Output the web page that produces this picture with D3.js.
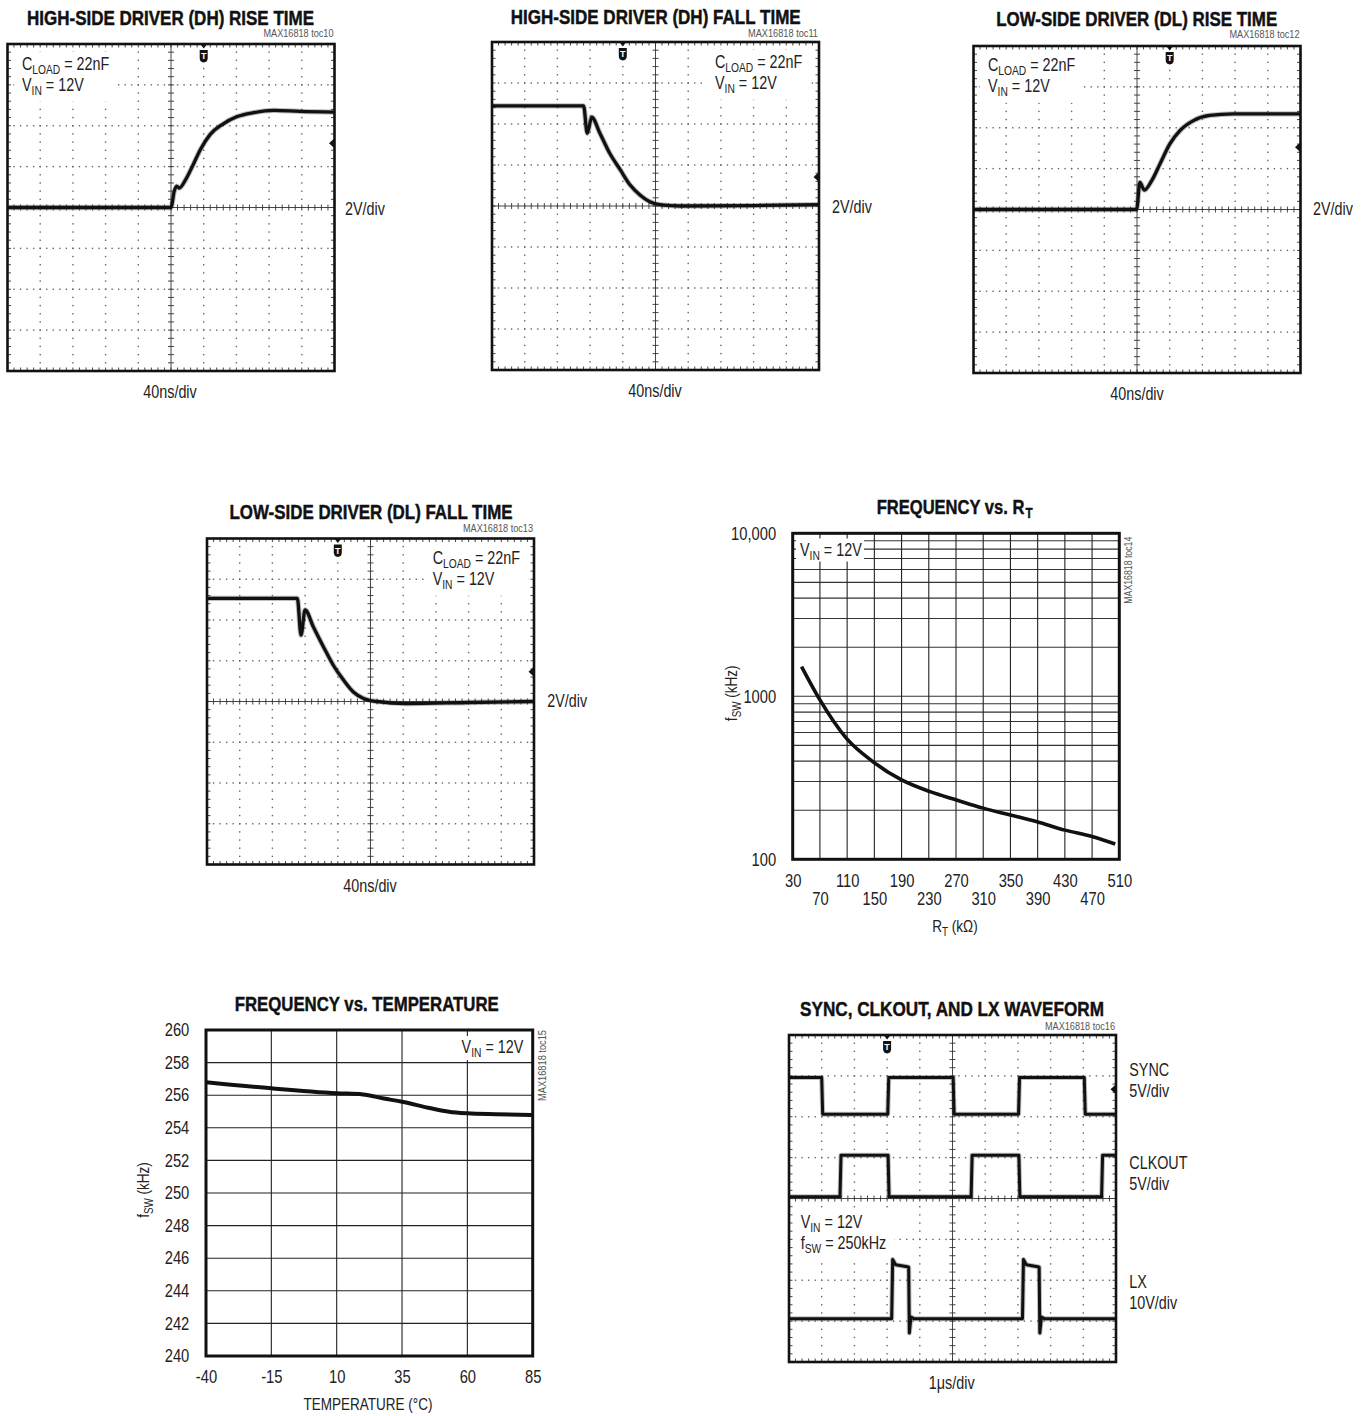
<!DOCTYPE html>
<html>
<head>
<meta charset="utf-8">
<script src="https://cdn.jsdelivr.net/npm/d3@7"></script>
<style>
  body { margin: 0; background: #fff; }
  svg { display: block; }
  text { font-family: "Liberation Sans", Arial, "Helvetica", sans-serif; fill: #222; }
</style>
</head>
<body>
<svg id="chart" width="1367" height="1416"></svg>
<script>
const dhRise = [[0,0],[200,0],[204,0.8],[207,1.05],[210,0.95],[218,1.37],[226,2.0],[236,2.84],[248,3.58],[263,4.07],[281,4.45],[301,4.64],[326,4.75],[358,4.7],[400,4.67]];
const dhFall = [[0,4.88],[112,4.88],[116.5,3.55],[122,4.33],[132,3.55],[144,2.57],[157,1.76],[169,1.02],[181,0.54],[193,0.21],[207,0.05],[230,0],[320,0.02],[400,0.07]];
const dlRise = [[0,0],[199.5,0],[203.5,1.32],[209,0.95],[218,1.41],[228,2.22],[240,3.2],[252.5,3.86],[269,4.35],[289,4.6],[318,4.68],[400,4.68]];
const dlFall = [[0,5.06],[110.5,5.06],[115,3.26],[120,4.49],[130,3.67],[142.5,2.68],[154.5,1.78],[167,1.05],[179,0.47],[191.5,0.15],[208,0],[244,-0.1],[320,-0.05],[400,0]];

// SYNC / CLKOUT / LX (t en us)
const syncWave = [[0,4.5],[1.0,4.5],[1.03,0],[3.02,0],[3.05,4.5],[5.02,4.5],[5.05,0],[7.02,0],[7.05,4.5],[9.03,4.5],[9.06,0],[10,0]];
const clkWave = [[0,0],[1.56,0],[1.59,5.1],[3.03,5.1],[3.06,0],[5.57,0],[5.6,5.1],[7.03,5.1],[7.06,0],[9.56,0],[9.59,5.1],[10,5.1]];
const lxWave = [[0,0],[3.14,0],[3.17,14.5],[3.26,13.2],[3.62,12.7],[3.66,12.6],[3.68,-3.5],[3.73,0.4],[3.82,0],[7.14,0],[7.17,14.5],[7.26,13.2],[7.61,12.7],[7.65,12.6],[7.67,-3.5],[7.72,0.4],[7.81,0],[10,0]];

// frequence vs RT
const rtValues = [43, 70, 109, 148, 190, 232, 271, 310, 350, 389, 430, 470, 504];
const fswVsRt  = [1520, 950, 552, 397, 307, 260, 231, 206, 187, 170, 151, 138, 124];
const rtTicks = d3.range(30, 511, 40);
const rtFreqTicks = [100, 1000, 10000];

// frequence vs temperature
const tempValues = [-40, -15, 10, 20, 28, 35, 46, 53, 60, 71, 85];
const fswVsTemp  = [256.8, 256.42, 256.12, 256.05, 255.8, 255.6, 255.2, 254.99, 254.89, 254.83, 254.78];
const tempTicks = [-40, -15, 10, 35, 60, 85];
const tempFreqTicks = d3.range(240, 261, 2);

const svg = d3.select("#chart");
const SX = 0.82; // police etroite simulee

function label(parent, x, y, size, anchor, rot) {
  return parent.append("text")
    .attr("transform", `translate(${x},${y})${rot ? ` rotate(${rot})` : ""} scale(${SX},1)`)
    .attr("font-size", size).attr("text-anchor", anchor || "start");
}

// texte avec indices : parts = [[texte, estIndice], ...]
function rich(text, parts, subSize) {
  let down = false;
  parts.forEach(([s, sub]) => {
    const t = text.append("tspan").text(s);
    if (sub) {
      t.attr("font-size", subSize);
      if (!down) { t.attr("dy", 4); down = true; }
    } else if (down) {
      t.attr("dy", -4); down = false;
    }
  });
  return text;
}

function title(x, y, len, str) {
  return svg.append("text").attr("x", x).attr("y", y)
    .attr("text-anchor", "middle").attr("font-size", 20).attr("font-weight", "bold")
    .attr("textLength", len).attr("lengthAdjust", "spacingAndGlyphs")
    .attr("stroke", "#111").attr("stroke-width", 0.45)
    .style("fill", "#111").text(str);
}

function toc(x, y, str) {
  svg.append("text").attr("x", x).attr("y", y).attr("text-anchor", "end")
    .attr("font-size", 10).attr("textLength", 70).attr("lengthAdjust", "spacingAndGlyphs")
    .style("fill", "#555").text(str);
}

let clipId = 0;
function drawScope(cfg) {
  const [bx, by, bw, bh] = cfg.box;
  const g = svg.append("g");
  const xd = d3.scaleLinear().domain([0, 10]).range([bx, bx + bw]);
  const yd = d3.scaleLinear().domain([-4, 4]).range([by + bh, by]);
  const minorX = d3.range(1, 50).map(k => k / 5);
  const minorY = d3.range(1, 40).map(k => k / 5 - 4);

  // graticule pointillee
  const dots = [];
  [1, 2, 3, 4, 6, 7, 8, 9].forEach(i => minorY.forEach(v => dots.push([xd(i), yd(v)])));
  [-3, -2, -1, 1, 2, 3].forEach(j => minorX.forEach(u => dots.push([xd(u), yd(j)])));
  g.append("g").selectAll("rect").data(dots).join("rect")
    .attr("x", d => d[0] - 0.7).attr("y", d => d[1] - 0.7)
    .attr("width", 1.4).attr("height", 1.4).attr("fill", "#666");

  // axes centraux et graduations
  const ticks = [];
  minorX.forEach(u => ticks.push([xd(u), yd(0) - 3, xd(u), yd(0) + 3]));
  minorY.forEach(v => ticks.push([xd(5) - 3, yd(v), xd(5) + 3, yd(v)]));
  minorX.forEach(u => {
    ticks.push([xd(u), by, xd(u), by + 3.5]);
    ticks.push([xd(u), by + bh - 3.5, xd(u), by + bh]);
  });
  minorY.forEach(v => {
    ticks.push([bx, yd(v), bx + 3.5, yd(v)]);
    ticks.push([bx + bw - 3.5, yd(v), bx + bw, yd(v)]);
  });
  ticks.push([xd(5), by, xd(5), by + bh]);
  ticks.push([bx, yd(0), bx + bw, yd(0)]);
  g.append("g").selectAll("line").data(ticks).join("line")
    .attr("x1", d => d[0]).attr("y1", d => d[1]).attr("x2", d => d[2]).attr("y2", d => d[3])
    .attr("stroke", "#333").attr("stroke-width", 0.9);

  // fond blanc des annotations internes (rempli plus bas)
  const bgLayer = g.append("g");

  // traces
  const id = "clip" + (clipId++);
  svg.append("clipPath").attr("id", id).append("rect")
    .attr("x", bx).attr("y", by).attr("width", bw).attr("height", bh);
  const t = d3.scaleLinear().domain([0, cfg.tSpan]).range([bx, bx + bw]);
  cfg.traces.forEach(tr => {
    const v = d3.scaleLinear()
      .domain([(-4 - tr.offset) * tr.vdiv, (4 - tr.offset) * tr.vdiv])
      .range([by + bh, by]);
    const line = d3.line().x(d => t(d[0])).y(d => v(d[1])).curve(tr.curve || d3.curveLinear);
    const w = tr.width || 3.3;
    // halo gris pour imiter le bruit de la trace
    g.append("path").datum(tr.data).attr("d", line)
      .attr("clip-path", `url(#${id})`)
      .attr("fill", "none").attr("stroke", "#444").attr("stroke-opacity", 0.35)
      .attr("stroke-width", w + 2).attr("stroke-linejoin", "round");
    g.append("path").datum(tr.data).attr("d", line)
      .attr("clip-path", `url(#${id})`)
      .attr("fill", "none").attr("stroke", "#111")
      .attr("stroke-width", w).attr("stroke-linejoin", "round");
  });

  // cadre
  g.append("rect").attr("x", bx).attr("y", by).attr("width", bw).attr("height", bh)
    .attr("fill", "none").attr("stroke", "#111").attr("stroke-width", 2.6);

  // marqueur de declenchement
  const tx = xd(cfg.trig);
  g.append("path").attr("d", `M${tx - 3.5},${by} L${tx + 3.5},${by} L${tx},${by + 4.5} Z`).attr("fill", "#111");
  g.append("path")
    .attr("d", `M${tx - 4},${by + 6} h8 v8 q0,4 -4,4.5 q-4,-0.5 -4,-4.5 Z`)
    .attr("fill", "#111");
  g.append("text").attr("x", tx).attr("y", by + 15).attr("text-anchor", "middle")
    .attr("font-size", 9).attr("font-weight", "bold").style("fill", "#fff").text("T");

  // marqueur de niveau a droite
  const my = yd(cfg.level);
  g.append("path").attr("d", `M${bx + bw},${my - 5} L${bx + bw - 5.5},${my} L${bx + bw},${my + 5} Z`).attr("fill", "#111");

  title(cfg.titleX, cfg.titleY, cfg.titleLen, cfg.title);
  toc(bx + bw - 1, cfg.tocY + 1, cfg.toc);

  const inner = [];
  cfg.notes.forEach(n => {
    const el = rich(label(svg, n.x, n.y, 17.5), n.parts, 12.5);
    if (n.bg) inner.push(el.node().getBoundingClientRect());
  });
  if (inner.length) {
    const x0 = d3.min(inner, r => r.left) - 8, x1 = d3.max(inner, r => r.right) + 8;
    const y0 = d3.min(inner, r => r.top) - 3, y1 = d3.max(inner, r => r.bottom) + 5;
    bgLayer.append("rect")
      .attr("x", Math.max(x0, bx + 4)).attr("y", Math.max(y0, by + 4))
      .attr("width", Math.min(x1, bx + bw - 4) - Math.max(x0, bx + 4))
      .attr("height", y1 - Math.max(y0, by + 4))
      .attr("fill", "#fff");
  }
  label(svg, cfg.timeX, cfg.timeY, 17.5, "middle").text(cfg.timeLabel);
}

const driverNotes = (x, y) => [
  { x: x, y: y, bg: true, parts: [["C", 0], ["LOAD", 1], [" = 22nF", 0]] },
  { x: x, y: y + 20.5, bg: true, parts: [["V", 0], ["IN", 1], [" = 12V", 0]] }
];

drawScope({
  box: [7.5, 44, 327, 327], tSpan: 400, trig: 6, level: 1.57,
  title: "HIGH-SIDE DRIVER (DH) RISE TIME", titleX: 170.5, titleY: 25, titleLen: 287,
  toc: "MAX16818 toc10", tocY: 36,
  traces: [{ data: dhRise, vdiv: 2, offset: 0, curve: d3.curveMonotoneX }],
  notes: driverNotes(22, 70).concat([{ x: 345, y: 215, parts: [["2V/div", 0]] }]),
  timeLabel: "40ns/div", timeX: 170, timeY: 398
});

drawScope({
  box: [492, 42, 327, 328], tSpan: 400, trig: 4, level: 0.71,
  title: "HIGH-SIDE DRIVER (DH) FALL TIME", titleX: 655.7, titleY: 24, titleLen: 290,
  toc: "MAX16818 toc11", tocY: 36,
  traces: [{ data: dhFall, vdiv: 2, offset: 0, curve: d3.curveMonotoneX }],
  notes: driverNotes(715, 68).concat([{ x: 832, y: 213, parts: [["2V/div", 0]] }]),
  timeLabel: "40ns/div", timeX: 655, timeY: 397
});

drawScope({
  box: [973.5, 46, 327, 327], tSpan: 400, trig: 6, level: 1.52,
  title: "LOW-SIDE DRIVER (DL) RISE TIME", titleX: 1136.7, titleY: 26, titleLen: 281,
  toc: "MAX16818 toc12", tocY: 37.3,
  traces: [{ data: dlRise, vdiv: 2, offset: 0, curve: d3.curveMonotoneX }],
  notes: driverNotes(988, 71).concat([{ x: 1313, y: 215, parts: [["2V/div", 0]] }]),
  timeLabel: "40ns/div", timeX: 1137, timeY: 400
});

drawScope({
  box: [207, 538.5, 327, 326], tSpan: 400, trig: 4, level: 0.73,
  title: "LOW-SIDE DRIVER (DL) FALL TIME", titleX: 371, titleY: 519.3, titleLen: 283,
  toc: "MAX16818 toc13", tocY: 530.7,
  traces: [{ data: dlFall, vdiv: 2, offset: 0, curve: d3.curveMonotoneX }],
  notes: driverNotes(432.7, 564).concat([{ x: 547.3, y: 707.3, parts: [["2V/div", 0]] }]),
  timeLabel: "40ns/div", timeX: 370, timeY: 891.7
});

drawScope({
  box: [789, 1035, 327, 327], tSpan: 10, trig: 3, level: 2.67,
  title: "SYNC, CLKOUT, AND LX WAVEFORM", titleX: 952, titleY: 1016, titleLen: 304,
  toc: "MAX16818 toc16", tocY: 1029.3,
  traces: [
    { data: syncWave, vdiv: 5, offset: 2.06, width: 3 },
    { data: clkWave, vdiv: 5, offset: 0.04, width: 3 },
    { data: lxWave, vdiv: 10, offset: -2.94, width: 3 }
  ],
  notes: [
    { x: 1129.3, y: 1076, parts: [["SYNC", 0]] },
    { x: 1129.3, y: 1097.3, parts: [["5V/div", 0]] },
    { x: 1129.3, y: 1169.3, parts: [["CLKOUT", 0]] },
    { x: 1129.3, y: 1190, parts: [["5V/div", 0]] },
    { x: 1129.3, y: 1288.3, parts: [["LX", 0]] },
    { x: 1129.3, y: 1309.3, parts: [["10V/div", 0]] },
    { x: 800.7, y: 1228.3, bg: true, parts: [["V", 0], ["IN", 1], [" = 12V", 0]] },
    { x: 800.7, y: 1249.3, bg: true, parts: [["f", 0], ["SW", 1], [" = 250kHz", 0]] }
  ],
  timeLabel: "1\u03bcs/div", timeX: 951.7, timeY: 1389.3
});

function styleTicks(axisG, size) {
  axisG.select(".domain").remove();
  axisG.selectAll("text").attr("font-size", size).attr("font-family", null)
    .attr("transform", `scale(${SX},1)`).style("fill", "#222");
}

// ---- FREQUENCY vs. RT ----
(function () {
  const L = 792.7, R = 1119.3, T = 533.3, B = 859.3;
  const x = d3.scaleLinear().domain([30, 510]).range([L, R]);
  const y = d3.scaleLog().domain([100, 10000]).range([B, T]);
  const g = svg.append("g");

  const hLines = y.ticks().filter(v => v > 100 && v < 10000);
  g.append("g").selectAll("line").data(hLines).join("line")
    .attr("x1", L).attr("x2", R).attr("y1", d => y(d)).attr("y2", d => y(d))
    .attr("stroke", "#333").attr("stroke-width", 1.1);
  g.append("g").selectAll("line").data(rtTicks.slice(1, -1)).join("line")
    .attr("x1", d => x(d)).attr("x2", d => x(d)).attr("y1", T).attr("y2", B)
    .attr("stroke", "#222").attr("stroke-width", 1.1);

  // etiquette VIN sur fond blanc
  g.append("rect").attr("x", 796).attr("y", 538.5).attr("width", 68).attr("height", 23).attr("fill", "#fff");
  rich(label(g, 800, 555.5, 17.5), [["V", 0], ["IN", 1], [" = 12V", 0]], 12.5);

  const line = d3.line().x(d => x(d)).y((d, i) => y(fswVsRt[i])).curve(d3.curveMonotoneX);
  g.append("path").datum(rtValues).attr("d", line).attr("fill", "none")
    .attr("stroke", "#111").attr("stroke-width", 3.6);

  g.append("rect").attr("x", L).attr("y", T).attr("width", R - L).attr("height", B - T)
    .attr("fill", "none").attr("stroke", "#111").attr("stroke-width", 3);

  const ya = g.append("g").attr("transform", `translate(${L},0)`)
    .call(d3.axisLeft(y).tickValues(rtFreqTicks).tickSize(0).tickPadding(16.5 / SX)
      .tickFormat(d => d === 10000 ? "10,000" : String(d)));
  styleTicks(ya, 18);

  const xa = g.append("g").attr("transform", `translate(0,${B})`)
    .call(d3.axisBottom(x).tickValues(rtTicks).tickSize(0));
  styleTicks(xa, 18);
  xa.selectAll("text").attr("dy", null).attr("y", (d, i) => i % 2 ? 45.7 : 27.4);

  const tt = svg.append("text").attr("x", 876.7).attr("y", 514).attr("font-size", 20).attr("font-weight", "bold")
    .attr("textLength", 156).attr("lengthAdjust", "spacingAndGlyphs")
    .attr("stroke", "#111").attr("stroke-width", 0.45).style("fill", "#111");
  tt.append("tspan").text("FREQUENCY vs. R");
  tt.append("tspan").attr("dx", 1.5).attr("dy", 4).attr("font-size", 14).text("T");

  rich(label(svg, 955, 931.7, 16.5, "middle"), [["R", 0], ["T", 1], [" (k\u03a9)", 0]], 12);
  rich(label(svg, 737, 693.3, 16.5, "middle", -90), [["f", 0], ["SW", 1], [" (kHz)", 0]], 12);
  svg.append("text").attr("transform", "translate(1131.5,536.7) rotate(-90)").attr("text-anchor", "end")
    .attr("font-size", 10).attr("textLength", 67).attr("lengthAdjust", "spacingAndGlyphs")
    .style("fill", "#555").text("MAX16818 toc14");
})();

// ---- FREQUENCY vs. TEMPERATURE ----
(function () {
  const L = 206, R = 532.7, T = 1030, B = 1356;
  const x = d3.scaleLinear().domain([-40, 85]).range([L, R]);
  const y = d3.scaleLinear().domain([240, 260]).range([B, T]);
  const g = svg.append("g");

  g.append("g").selectAll("line").data(tempFreqTicks.slice(1, -1)).join("line")
    .attr("x1", L).attr("x2", R).attr("y1", d => y(d)).attr("y2", d => y(d))
    .attr("stroke", "#222").attr("stroke-width", 1.1);
  g.append("g").selectAll("line").data(tempTicks.slice(1, -1)).join("line")
    .attr("x1", d => x(d)).attr("x2", d => x(d)).attr("y1", T).attr("y2", B)
    .attr("stroke", "#222").attr("stroke-width", 1.1);

  g.append("rect").attr("x", 458).attr("y", 1036).attr("width", 70).attr("height", 24).attr("fill", "#fff");
  rich(label(g, 523.3, 1053.3, 17.5, "end"), [["V", 0], ["IN", 1], [" = 12V", 0]], 12.5);

  const line = d3.line().x(d => x(d)).y((d, i) => y(fswVsTemp[i])).curve(d3.curveMonotoneX);
  g.append("path").datum(tempValues).attr("d", line).attr("fill", "none")
    .attr("stroke", "#111").attr("stroke-width", 4);

  g.append("rect").attr("x", L).attr("y", T).attr("width", R - L).attr("height", B - T)
    .attr("fill", "none").attr("stroke", "#111").attr("stroke-width", 3);

  const ya = g.append("g").attr("transform", `translate(${L},0)`)
    .call(d3.axisLeft(y).tickValues(tempFreqTicks).tickSize(0).tickPadding(16.7 / SX));
  styleTicks(ya, 18);

  const xa = g.append("g").attr("transform", `translate(0,${B})`)
    .call(d3.axisBottom(x).tickValues(tempTicks).tickSize(0).tickFormat(d => String(d)));
  styleTicks(xa, 18);
  xa.selectAll("text").attr("dy", null).attr("y", 27.3);

  title(366.7, 1010.7, 264, "FREQUENCY vs. TEMPERATURE");
  label(svg, 368, 1410, 16.5, "middle").text("TEMPERATURE (\u00b0C)");
  rich(label(svg, 149, 1190, 16.5, "middle", -90), [["f", 0], ["SW", 1], [" (kHz)", 0]], 12);
  svg.append("text").attr("transform", "translate(545.5,1030) rotate(-90)").attr("text-anchor", "end")
    .attr("font-size", 10).attr("textLength", 71).attr("lengthAdjust", "spacingAndGlyphs")
    .style("fill", "#555").text("MAX16818 toc15");
})();
</script>
</body>
</html>
